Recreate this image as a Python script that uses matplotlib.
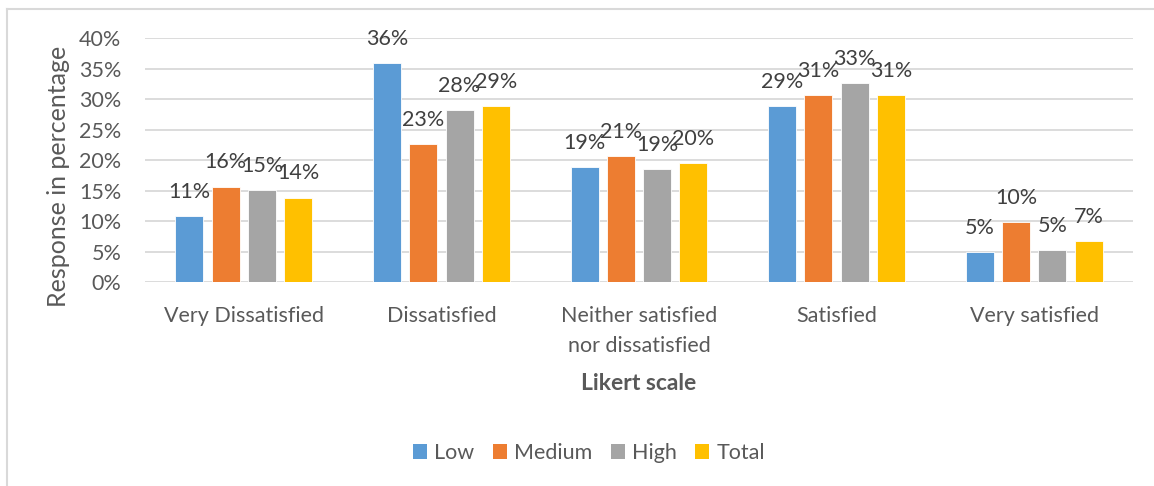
import matplotlib
matplotlib.use("Agg")
import matplotlib.pyplot as plt
from matplotlib.lines import Line2D
from matplotlib.patches import Patch
import numpy as np

plt.rcParams['font.family'] = ['Lato', 'DejaVu Sans']

categories = ["Very Dissatisfied", "Dissatisfied", "Neither satisfied\nnor dissatisfied",
              "Satisfied", "Very satisfied"]
series_names = ["Low", "Medium", "High", "Total"]
low = [10.9, 35.9, 18.9, 28.9, 4.9]
medium = [15.7, 22.7, 20.7, 30.7, 9.9]
high = [15.1, 28.3, 18.6, 32.6, 5.3]
total = [13.9, 28.9, 19.6, 30.7, 6.8]
colors = ["#5B9BD5", "#ED7D31", "#A5A5A5", "#FFC000"]
yticks = [0, 5, 10, 15, 20, 25, 30, 35, 40]

W, H = 1154, 486
fig = plt.figure(figsize=(W / 100, H / 100), dpi=100)
ax = fig.add_axes([145 / W, 1 - 282.3 / H, 988 / W, 244 / H])

x = np.arange(len(categories))
step, width = 0.1837, 0.1417
text_color = "#404040"
axis_color = "#595959"

for i, (vals, name, col) in enumerate(zip([low, medium, high, total], series_names, colors)):
    pos = x + (i - 1.5) * step
    ax.bar(pos, vals, width=width, color=col, edgecolor="white", linewidth=0.6,
           label=name, zorder=3)
    for px, v in zip(pos, vals):
        ax.annotate(f"{round(v):d}%", (px, v), xytext=(0, 13), textcoords="offset points",
                    ha="center", va="baseline", fontsize=15.5, color=text_color, zorder=4)

ax.set_xlim(-0.5, len(categories) - 0.5)
ax.set_ylim(0, 40)
ax.set_yticks(yticks)
ax.set_yticklabels([f"{t}%" for t in yticks])
ax.set_xticks(x)
ax.set_xticklabels(categories, linespacing=1.6)
ax.tick_params(axis="y", length=0, pad=17, labelsize=15.5, labelcolor=axis_color)
ax.tick_params(axis="x", length=0, pad=17, labelsize=15.5, labelcolor=axis_color)
ax.grid(axis="y", color="#D9D9D9", linewidth=1.3, zorder=0)
for s in ax.spines.values():
    s.set_visible(False)

ax.set_ylabel("Response in percentage", fontsize=18, color=axis_color)
ax.yaxis.set_label_coords(-0.076, 0.436)
fig.text(639 / W, 1 - 383 / H, "Likert scale", ha="center", va="center",
         fontsize=16.5, fontweight="bold", color=axis_color)

handles = [Patch(facecolor=c, edgecolor="none") for c in colors]
fig.legend(handles, series_names, loc="center", bbox_to_anchor=(589 / W, 1 - 453 / H),
           ncol=4, frameon=False, fontsize=15.5, handlelength=0.65, handleheight=0.65,
           handletextpad=0.35, columnspacing=0.85, labelcolor=axis_color)

# chart frame (top and left edges)
fig.add_artist(Line2D([7 / W, 1], [1 - 9 / H, 1 - 9 / H], transform=fig.transFigure,
                      color="#D9D9D9", linewidth=1.5))
fig.add_artist(Line2D([7 / W, 7 / W], [0, 1 - 9 / H], transform=fig.transFigure,
                      color="#D9D9D9", linewidth=1.5))

fig.savefig("out.png", dpi=100, facecolor="white")
